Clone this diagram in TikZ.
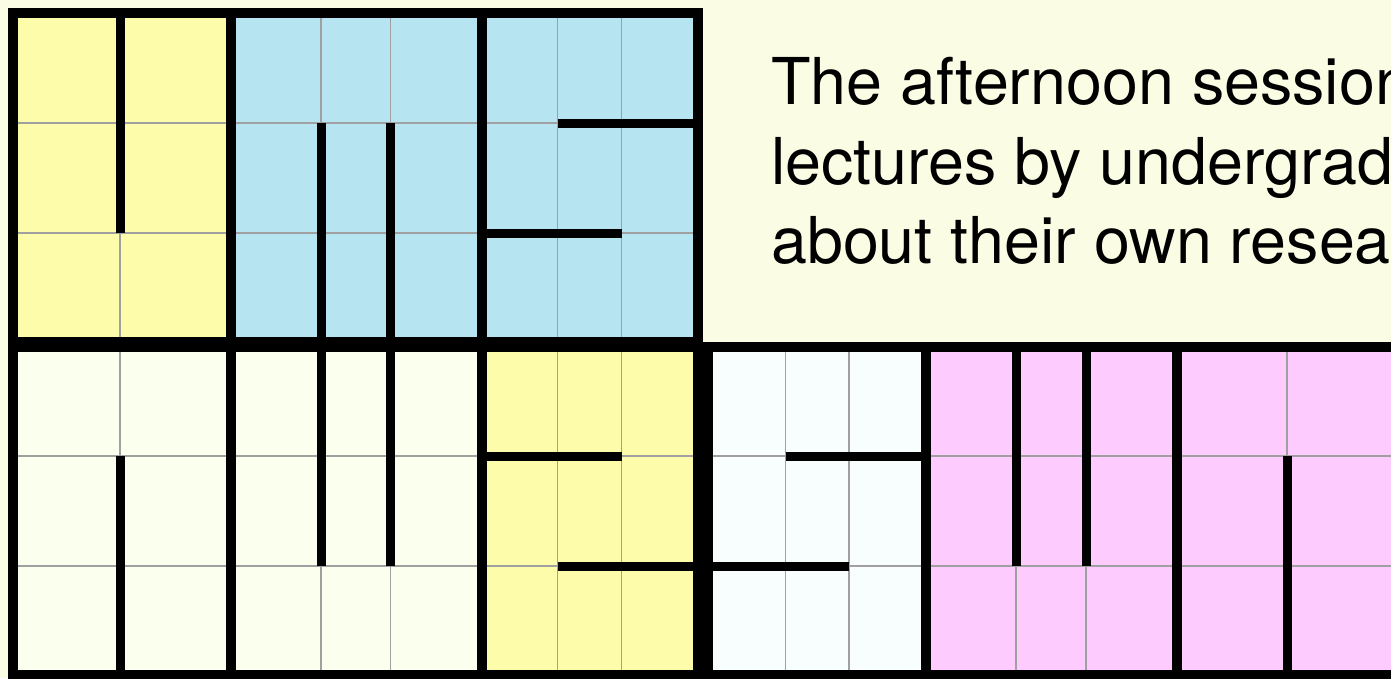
\documentclass[tikz,border=0pt]{standalone}
\usepackage{fontspec}
\setmainfont{TeX Gyre Heros}
\usepackage{tikz}
\definecolor{cream}{HTML}{FAFDE3}
\definecolor{lemon}{HTML}{FCFCAA}
\definecolor{skyblue}{HTML}{B6E4F0}
\definecolor{paleyellow}{HTML}{FAFFEE}
\definecolor{paleblue}{HTML}{F8FDFD}
\definecolor{candy}{HTML}{FDCBFD}
\definecolor{gridgray}{HTML}{A0A0A0}

\begin{document}
\begin{tikzpicture}[
    x=1pt, y=-1pt,
    gridline/.style={draw=gridgray, line width=1.2pt},
    wall/.style={draw=black, line width=9pt, line cap=butt},
    tileborder/.style={draw=black, line width=10pt},
    blurb/.style={
        anchor=base west,
        inner sep=0pt,
        font=\fontsize{64.6}{79.5}\selectfont
    }
]

% Canvas
\useasboundingbox (0,0) rectangle (1391,678);
\clip (0,0) rectangle (1391,678);
\fill[cream] (0,0) rectangle (1391,678);

% Tile fills (top row)
\fill[lemon] (13,13) rectangle (231,342);
\fill[skyblue] (231,13) rectangle (481.5,342);
\fill[skyblue] (481.5,13) rectangle (698,342);

% Tile fills (bottom left)
\fill[paleyellow] (13,347) rectangle (231,675);
\fill[paleyellow] (231,347) rectangle (481.5,675);
\fill[lemon] (481.5,347) rectangle (698,675);

% Tile fills (bottom right)
\fill[paleblue] (708,347) rectangle (926,675);
\fill[candy] (926,347) rectangle (1176.5,675);
\fill[candy] (1176.5,347) rectangle (1400,675);

% Cell grid
\draw[gridline] (13,123) -- (698,123);
\draw[gridline] (13,233) -- (698,233);
\draw[gridline] (120,13) -- (120,342);
\draw[gridline] (321,13) -- (321,342);
\draw[gridline] (390.5,13) -- (390.5,342);
\draw[gridline] (557.5,13) -- (557.5,342);
\draw[gridline] (621.5,13) -- (621.5,342);

\draw[gridline] (13,456) -- (698,456);
\draw[gridline] (13,566) -- (698,566);
\draw[gridline] (120,347) -- (120,675);
\draw[gridline] (321,347) -- (321,675);
\draw[gridline] (390.5,347) -- (390.5,675);
\draw[gridline] (557.5,347) -- (557.5,675);
\draw[gridline] (621.5,347) -- (621.5,675);

\draw[gridline] (708,456) -- (1400,456);
\draw[gridline] (708,566) -- (1400,566);
\draw[gridline] (785.5,347) -- (785.5,675);
\draw[gridline] (849,347) -- (849,675);
\draw[gridline] (1016,347) -- (1016,675);
\draw[gridline] (1086,347) -- (1086,675);
\draw[gridline] (1287,347) -- (1287,675);

% Walls
\draw[wall] (120,13) -- (120,233);
\draw[wall] (321,123) -- (321,342);
\draw[wall] (390.5,123) -- (390.5,342);
\draw[wall] (557.5,123) -- (698,123);
\draw[wall] (481.5,233) -- (621.5,233);

\draw[wall] (120,456) -- (120,675);
\draw[wall] (321,347) -- (321,566);
\draw[wall] (390.5,347) -- (390.5,566);
\draw[wall] (481.5,456) -- (621.5,456);
\draw[wall] (557.5,566) -- (698,566);

\draw[wall] (785.5,456) -- (926,456);
\draw[wall] (708,566) -- (849,566);
\draw[wall] (1016,347) -- (1016,566);
\draw[wall] (1086,347) -- (1086,566);
\draw[wall] (1287,456) -- (1287,675);

% Tile borders
\draw[tileborder] (13,13) rectangle (698,342);
\draw[tileborder] (231,13) -- (231,342);
\draw[tileborder] (481.5,13) -- (481.5,342);

\draw[tileborder] (13,347) rectangle (698,675);
\draw[tileborder] (231,347) -- (231,675);
\draw[tileborder] (481.5,347) -- (481.5,675);

\draw[tileborder] (708,347) rectangle (1396,675);
\draw[tileborder] (926,347) -- (926,675);
\draw[tileborder] (1176.5,347) -- (1176.5,675);

% Text
\node[blurb] (line1) at (771,104) {The afternoon session};
\node[blurb] (line2) at (771,184) {lectures by undergrad};
\node[blurb] (line3) at (771,263) {about their own resea};

\end{tikzpicture}
\end{document}
